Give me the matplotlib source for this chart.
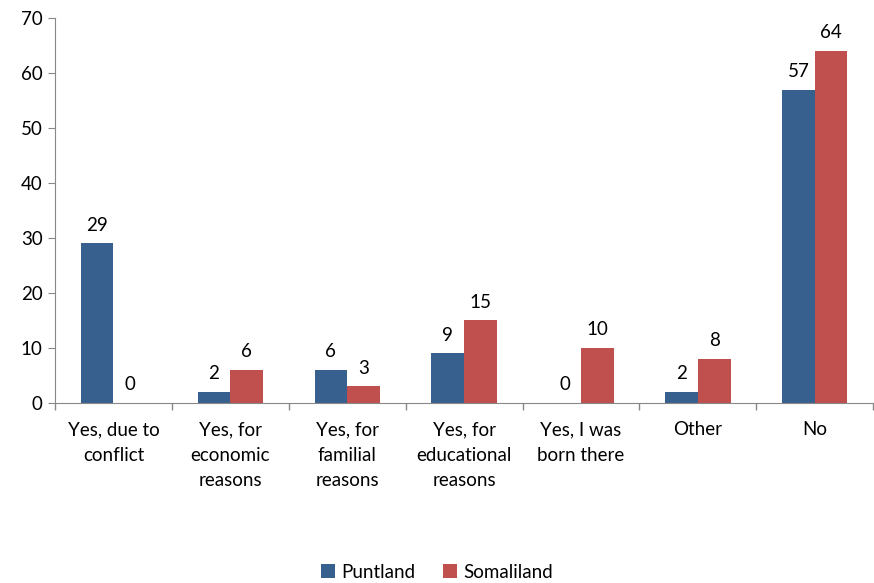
import matplotlib.pyplot as plt
import numpy as np

categories = ['Yes, due to\nconflict', 'Yes, for\neconomic\nreasons', 'Yes, for\nfamilial\nreasons',
              'Yes, for\neducational\nreasons', 'Yes, I was\nborn there', 'Other', 'No']
puntland = [29, 2, 6, 9, 0, 2, 57]
somaliland = [0, 6, 3, 15, 10, 8, 64]
series_names = ['Puntland', 'Somaliland']
colors = ['#38608F', '#C0504D']

plt.rcParams['font.family'] = ['Lato', 'DejaVu Sans']
fs = 13.5

fig = plt.figure(figsize=(8.74, 5.83), dpi=100)
ax = fig.add_axes([0.063, 0.309, 0.936, 0.66])

x = np.arange(len(categories))
w = 0.28
for vals, off, col, name in zip([puntland, somaliland], [-w / 2, w / 2], colors, series_names):
    bars = ax.bar(x + off, vals, w, color=col, label=name)
    for b, v in zip(bars, vals):
        ax.annotate(str(v), (b.get_x() + b.get_width() / 2, v), xytext=(0, 7),
                    textcoords='offset points', ha='center', va='bottom', fontsize=fs)

ax.set_xlim(-0.5, len(categories) - 0.5)
ax.set_ylim(0, 70)
ax.set_yticks(range(0, 71, 10))
ax.set_xticks(x)
ax.set_xticklabels(categories, fontsize=fs, linespacing=1.62, va='top')
ax.tick_params(axis='x', length=0, pad=13)
ax.set_xticks(np.arange(len(categories) + 1) - 0.5, minor=True)
ax.tick_params(axis='x', which='minor', length=5, color='#888888', width=1)
ax.tick_params(axis='y', labelsize=fs, length=5, color='#888888', pad=4)
for s in ['top', 'right']:
    ax.spines[s].set_visible(False)
for s in ['left', 'bottom']:
    ax.spines[s].set_color('#888888')

fig.legend(loc='lower center', bbox_to_anchor=(0.5, -0.025), ncol=2, frameon=False,
           fontsize=fs, handlelength=0.75, handleheight=0.75, handletextpad=0.3, columnspacing=1.5)

fig.savefig('out.png', dpi=100)
